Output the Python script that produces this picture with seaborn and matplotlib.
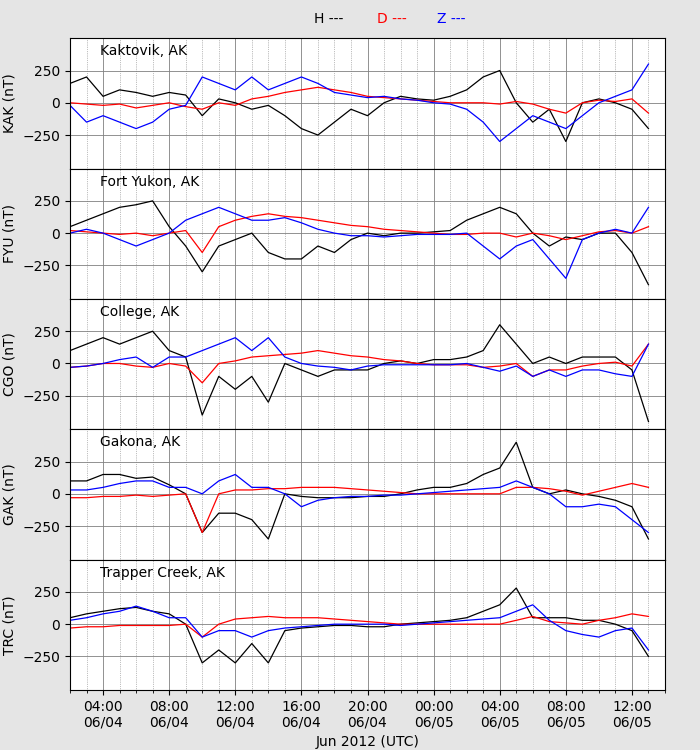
import numpy as np
import pandas as pd
import matplotlib
matplotlib.use("Agg")
import matplotlib.pyplot as plt
import matplotlib.dates as mdates
import seaborn as sb

# hourly samples 02:00 06/04 .. 13:00 06/05
times = pd.date_range("2012-06-04 02:00", periods=36, freq="h")

stations = ["KAK", "FYU", "CGO", "GAK", "TRC"]
names = ["Kaktovik, AK", "Fort Yukon, AK", "College, AK", "Gakona, AK", "Trapper Creek, AK"]

kak_h = [150, 200, 50, 100, 80, 50, 80, 60, -100, 30, 0, -50, -20, -100, -200, -250, -150, -50,
         -100, 0, 50, 30, 20, 50, 100, 200, 250, 0, -150, -50, -300, 0, 30, 0, -50, -200]
kak_d = [0, -10, -20, -10, -40, -20, 0, -30, -50, 0, -20, 30, 50, 80, 100, 120, 100, 80,
         50, 40, 30, 20, 10, 0, 0, 0, -10, 10, -10, -50, -80, 0, 20, 10, 30, -80]
kak_z = [-20, -150, -100, -150, -200, -150, -50, -20, 200, 150, 100, 200, 100, 150, 200, 150, 80, 60,
         40, 50, 30, 20, 0, -10, -50, -150, -300, -200, -100, -150, -200, -100, 0, 50, 100, 300]

fyu_h = [50, 100, 150, 200, 220, 250, 50, -100, -300, -100, -50, 0, -150, -200, -200, -100, -150, -50,
         0, -20, 0, 0, 10, 20, 100, 150, 200, 150, 0, -100, -30, -50, 0, 0, -150, -400]
fyu_d = [20, 10, 0, -10, 0, -20, 0, 20, -150, 50, 100, 130, 150, 130, 120, 100, 80, 60,
         50, 30, 20, 10, 0, -10, -10, 0, 0, -30, 0, -20, -50, -20, 10, 20, 0, 50]
fyu_z = [0, 30, 0, -50, -100, -50, 0, 100, 150, 200, 150, 100, 100, 120, 80, 30, 0, -20,
         -20, -30, -20, -10, -10, -10, 0, -100, -200, -100, -50, -200, -350, -50, 0, 30, 0, 200]

cgo_h = [100, 150, 200, 150, 200, 250, 100, 50, -400, -100, -200, -100, -300, 0, -50, -100, -50, -50,
         -50, 0, 20, 0, 30, 30, 50, 100, 300, 150, 0, 50, 0, 50, 50, 50, -50, -450]
cgo_d = [-30, -20, 0, 0, -20, -30, 0, -20, -150, 0, 20, 50, 60, 70, 80, 100, 80, 60,
         50, 30, 20, 0, -10, -10, -10, -30, -20, 0, -100, -50, -50, -20, 0, 10, -20, 150]
cgo_z = [-30, -20, 0, 30, 50, -30, 50, 50, 100, 150, 200, 100, 200, 50, 0, -20, -30, -50,
         -20, -10, -10, -10, -10, -10, 0, -30, -60, -20, -100, -50, -100, -50, -50, -80, -100, 150]

gak_h = [100, 100, 150, 150, 120, 130, 70, 0, -300, -150, -150, -200, -350, 0, -20, -30, -30, -30,
         -20, -20, 0, 30, 50, 50, 80, 150, 200, 400, 50, 0, 30, 0, -20, -50, -100, -350]
gak_d = [-30, -30, -20, -20, -10, -20, -10, 0, -300, 0, 30, 30, 40, 40, 50, 50, 50, 40,
         30, 20, 10, 0, 0, 0, 0, 0, 0, 50, 50, 40, 20, -10, 20, 50, 80, 50]
gak_z = [30, 30, 50, 80, 100, 100, 50, 50, 0, 100, 150, 50, 50, 0, -100, -50, -30, -20,
         -20, -10, -10, 0, 10, 20, 30, 40, 50, 100, 50, 0, -100, -100, -80, -100, -200, -300]

trc_h = [50, 80, 100, 120, 130, 100, 80, 0, -300, -200, -300, -150, -300, -50, -30, -20, -10, -10,
         -20, -20, 0, 10, 20, 30, 50, 100, 150, 280, 50, 50, 50, 30, 30, 0, -50, -250]
trc_d = [-30, -20, -20, -10, -10, -10, -10, 0, -100, 0, 40, 50, 60, 50, 50, 50, 40, 30,
         20, 10, 0, 0, 0, 0, 0, 0, 0, 30, 60, 20, 10, 0, 30, 50, 80, 60]
trc_z = [30, 50, 80, 100, 140, 100, 50, 50, -100, -50, -50, -100, -50, -30, -20, -10, 0, 0,
         0, 0, -10, 0, 10, 20, 30, 40, 50, 100, 150, 30, -50, -80, -100, -50, -30, -200]

series = {
    "KAK": (kak_h, kak_d, kak_z),
    "FYU": (fyu_h, fyu_d, fyu_z),
    "CGO": (cgo_h, cgo_d, cgo_z),
    "GAK": (gak_h, gak_d, gak_z),
    "TRC": (trc_h, trc_d, trc_z),
}

fig = plt.figure(figsize=(7, 7.5), dpi=100, facecolor="#e5e5e5")
gs = fig.add_gridspec(5, 1, left=0.1, right=0.95, top=0.949, bottom=0.08, hspace=0)
colors = {"H": "black", "D": "red", "Z": "blue"}

for i, (st, nm) in enumerate(zip(stations, names)):
    ax = fig.add_subplot(gs[i])
    h, d, z = series[st]
    df = pd.DataFrame({"time": times, "H": h, "D": d, "Z": z})
    for comp in ["H", "D", "Z"]:
        sb.lineplot(data=df, x="time", y=comp, ax=ax, color=colors[comp], lw=0.9)
    ax.set_ylim(-510, 500)
    ax.set_yticks([-250, 0, 250])
    ax.set_xlim(pd.Timestamp("2012-06-04 02:00"), pd.Timestamp("2012-06-05 14:00"))
    ax.xaxis.set_major_locator(mdates.HourLocator(byhour=[0, 4, 8, 12, 16, 20]))
    ax.xaxis.set_minor_locator(mdates.HourLocator())
    ax.xaxis.set_major_formatter(mdates.DateFormatter("%H:%M\n%m/%d"))
    ax.grid(which="major", color="gray", lw=0.6)
    ax.grid(which="minor", axis="x", color="gray", lw=0.5, ls=":")
    ax.set_ylabel(f"{st} (nT)")
    ax.set_xlabel("")
    ax.text(0.05, 0.9, nm, transform=ax.transAxes, ha="left", va="center", fontsize=10)
    if i < 4:
        ax.tick_params(labelbottom=False)

ax.set_xlabel("Jun 2012 (UTC)")
fig.text(0.47, 0.975, "H ---", color="black", ha="center", va="center")
fig.text(0.56, 0.975, "D ---", color="red", ha="center", va="center")
fig.text(0.645, 0.975, "Z ---", color="blue", ha="center", va="center")

fig.savefig("out.png", facecolor=fig.get_facecolor())
